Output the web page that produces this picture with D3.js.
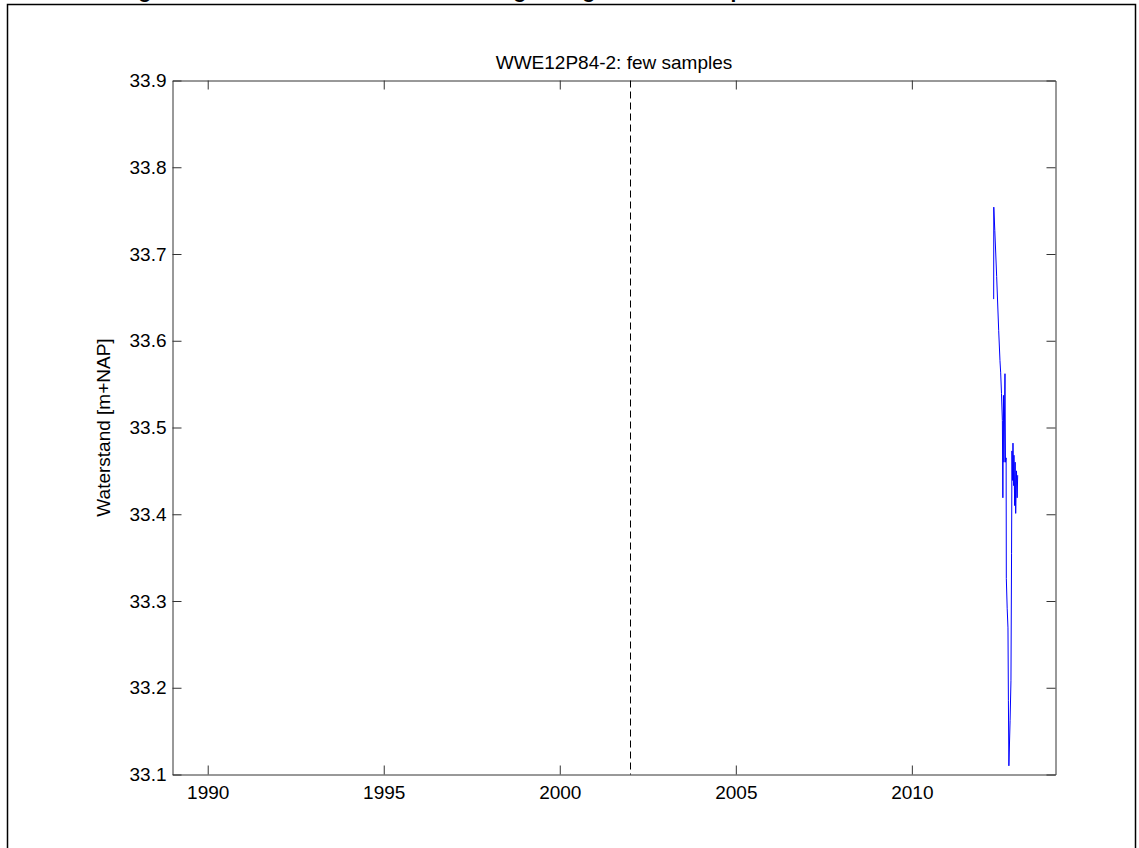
<!DOCTYPE html>
<html>
<head>
<meta charset="utf-8">
<script src="https://cdn.jsdelivr.net/npm/d3@7"></script>
<style>
  body { margin: 0; background: #fff; }
  svg text { font-family: "Liberation Sans", Arial, sans-serif; }
</style>
</head>
<body>
<div id="chart"></div>
<script>
const title = "WWE12P84-2: few samples";
const yLabel = "Waterstand [m+NAP]";
const xTicks = [1990, 1995, 2000, 2005, 2010];
const yTicks = [33.1, 33.2, 33.3, 33.4, 33.5, 33.6, 33.7, 33.8, 33.9];
const xDomain = [1989, 2014.08];
const yDomain = [33.1, 33.9];
const markerYear = 2002.0;

// decimal year / water level
const sampleYears = [
  2012.324, 2012.327, 2012.356, 2012.409, 2012.466, 2012.503, 2012.523, 2012.546,
  2012.571, 2012.585, 2012.602, 2012.616, 2012.645, 2012.659, 2012.678, 2012.683,
  2012.708, 2012.730, 2012.742, 2012.756, 2012.790, 2012.815, 2012.832, 2012.843,
  2012.858, 2012.872, 2012.892, 2012.900, 2012.920, 2012.934, 2012.949, 2012.972,
  2012.991, 2013.006
];
const sampleLevels = [
  33.648, 33.754, 33.727, 33.674, 33.612, 33.577, 33.563, 33.539,
  33.508, 33.419, 33.537, 33.460, 33.562, 33.460, 33.465, 33.326,
  33.291, 33.269, 33.185, 33.110, 33.162, 33.208, 33.355, 33.473,
  33.439, 33.482, 33.433, 33.468, 33.410, 33.460, 33.401, 33.450,
  33.419, 33.445
];

// bits of the (cut off) page heading above the figure
const headingGlyphs = ["g", "g", "g", "p"];
const headingX = [145, 520, 589, 737];

const W = 1139, H = 848;
const margin = { top: 80, left: 172, right: 84, bottom: 74 };
const width = W - margin.left - margin.right;
const height = H - margin.top - margin.bottom;

const svg = d3.select("#chart").append("svg")
  .attr("width", W)
  .attr("height", H);

// page frame
svg.append("path")
  .attr("d", "M7.5," + (H + 5) + " V4.5 H1135.5 V" + (H + 5))
  .attr("fill", "none")
  .attr("stroke", "#000")
  .attr("stroke-width", 1.5);

svg.selectAll(".heading")
  .data(headingGlyphs)
  .enter().append("text")
  .attr("class", "heading")
  .attr("x", (d, i) => headingX[i])
  .attr("y", -2)
  .attr("text-anchor", "middle")
  .style("font-weight", "bold")
  .style("font-size", "21px")
  .text(d => d);

const g = svg.append("g")
  .attr("transform", "translate(" + (margin.left + 0.5) + "," + (margin.top + 0.5) + ")");

const x = d3.scaleLinear().domain(xDomain).range([0, width]);
const y = d3.scaleLinear().domain(yDomain).range([height, 0]);

const fontSize = "19px";

const xAxis = d3.axisBottom(x).tickValues(xTicks).tickFormat(d3.format("d"))
  .tickSizeInner(-9).tickSizeOuter(0).tickPadding(11);
const xAxisTop = d3.axisTop(x).tickValues(xTicks).tickFormat("")
  .tickSizeInner(-9).tickSizeOuter(0);
const yAxis = d3.axisLeft(y).tickValues(yTicks).tickFormat(d3.format(".1f"))
  .tickSizeInner(-9).tickSizeOuter(0).tickPadding(6);
const yAxisRight = d3.axisRight(y).tickValues(yTicks).tickFormat("")
  .tickSizeInner(-9).tickSizeOuter(0);

function styleAxis(sel) {
  sel.selectAll("path, line").attr("stroke", "#333");
  sel.selectAll("text").attr("fill", "#000").style("font-size", fontSize).style("font-family", null);
}

g.append("g").attr("transform", "translate(0," + height + ")").call(xAxis).call(styleAxis);
g.append("g").call(xAxisTop).call(styleAxis);
g.append("g").call(yAxis).call(styleAxis);
g.append("g").attr("transform", "translate(" + width + ",0)").call(yAxisRight).call(styleAxis);

// reference date
g.append("line")
  .attr("x1", Math.round(x(markerYear)))
  .attr("x2", Math.round(x(markerYear)))
  .attr("y1", 0)
  .attr("y2", height)
  .attr("stroke", "#000")
  .attr("stroke-dasharray", "7,4");

const line = d3.line()
  .x((d, i) => x(sampleYears[i]))
  .y(d => y(d));

g.append("path")
  .attr("d", line(sampleLevels))
  .attr("fill", "none")
  .attr("stroke", "#0000ff")
  .attr("stroke-width", 1);

// title
g.append("text")
  .attr("x", width / 2)
  .attr("y", -12)
  .attr("text-anchor", "middle")
  .style("font-size", fontSize)
  .text(title);

g.append("text")
  .attr("transform", "translate(-63," + (height / 2) + ") rotate(-90)")
  .attr("text-anchor", "middle")
  .style("font-size", fontSize)
  .text(yLabel);
</script>
</body>
</html>
